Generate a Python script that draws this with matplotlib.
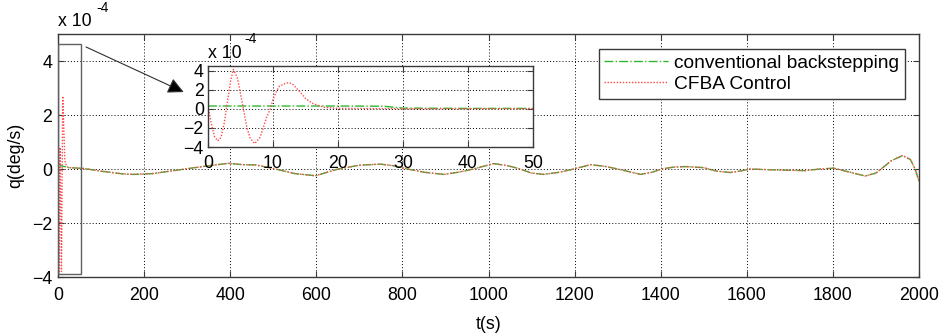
import matplotlib
matplotlib.use("Agg")
import matplotlib.pyplot as plt
from matplotlib.patches import Rectangle, FancyArrowPatch
import numpy as np

plt.rcParams['font.family'] = ['Liberation Sans', 'DejaVu Sans']

# ---- data (values in units of 1e-4 deg/s) ----
# slow common response, t >= 25 s
t_slow = [25, 60, 100, 150, 175, 220, 260, 295, 350, 395, 430, 460, 505, 550, 598,
          651, 700, 749, 780, 812, 850, 896, 930, 965, 1012, 1045, 1074, 1100, 1128,
          1165, 1198, 1237, 1270, 1300, 1353, 1380, 1402, 1430, 1458, 1500, 1530,
          1562, 1590, 1607, 1640, 1680, 1735, 1770, 1802, 1840, 1875, 1900, 1912,
          1935, 1962, 1980, 1991, 2000]
q_slow = [0.05, 0.02, -0.08, -0.18, -0.20, -0.17, -0.08, 0.0, 0.12, 0.21, 0.16, 0.15,
          0.0, -0.17, -0.25, 0.0, 0.14, 0.18, 0.12, 0.0, -0.12, -0.20, -0.12, 0.0, 0.20,
          0.12, 0.0, -0.15, -0.20, -0.12, 0.0, 0.16, 0.10, 0.0, -0.20, -0.12, 0.0, 0.07,
          0.09, 0.05, -0.08, -0.13, -0.06, 0.0, -0.02, -0.04, -0.06, 0.0, 0.03, -0.12,
          -0.26, -0.15, 0.0, 0.30, 0.50, 0.35, 0.0, -0.45]

# early transient as drawn on the main axes
t_cb_start = [0, 10, 20]
q_cb_start = [0.2, 0.1, 0.08]
t_cfba_start = [0, 2, 5, 8, 11, 16, 20]
q_cfba_start = [0.3, -3.9, 0.8, -3.8, 2.7, 0.3, 0.1]

# zoomed transient (inset, 0-50 s)
t_cb_zoom = [0, 10, 20, 27, 30, 40, 50]
q_cb_zoom = [0.3, 0.3, 0.3, 0.28, 0.08, 0.05, 0.05]
t_cfba_zoom = [0, 0.5, 1, 1.5, 2, 2.5, 3, 3.5, 3.9, 4.5, 5, 5.5, 6, 6.5, 7.2, 8, 8.5,
               9, 9.6, 10, 10.5, 11, 12, 12.5, 13, 14, 15, 16, 17, 18, 20, 25, 30, 40, 50]
q_cfba_zoom = [0.3, -1.5, -2.9, -3.36, -3.0, -1.5, 0.8, 3.0, 4.13, 3.3, 1.6, -0.2, -2.0,
               -3.1, -3.64, -3.0, -2.0, -0.9, 0.0, 1.0, 1.8, 2.4, 2.7, 2.76, 2.6, 1.9,
               1.1, 0.6, 0.35, 0.15, 0.05, 0.03, 0.02, 0.02, 0.02]

labels = ['conventional backstepping', 'CFBA Control']
x_ticks = list(range(0, 2001, 200))
y_ticks = [-4, -2, 0, 2, 4]
x_ticks_zoom = [0, 10, 20, 30, 40, 50]

GREEN = '#2fb82f'
RED = '#ff4a4a'
AXC = '#3a3a3a'
FS = 12.8

fig = plt.figure(figsize=(9.4, 3.36), dpi=100)
W, H = 940, 336

def px_axes(l, t, r, b):
    return fig.add_axes([l / W, (H - b) / H, (r - l) / W, (b - t) / H])

def style(ax, fs):
    for s in ax.spines.values():
        s.set_color(AXC)
        s.set_linewidth(1.0)
    ax.tick_params(direction='in', length=4, width=0.8, color=AXC, labelsize=fs,
                   top=True, right=True, pad=4)
    ax.grid(True, color='k', linestyle=(0, (1, 2.2)), linewidth=0.7)
    ax.set_axisbelow(True)

ax = px_axes(58, 34, 919, 277)
t_cb = t_cb_start + t_slow
q_cb = q_cb_start + q_slow
t_cf = t_cfba_start + t_slow
q_cf = q_cfba_start + q_slow
ax.plot(t_cb, q_cb, color=GREEN, linestyle='-.', linewidth=1.0, label=labels[0])
ax.plot(t_cf, q_cf, color=RED, linestyle=(0, (1, 1.2)), linewidth=1.0, label=labels[1])
ax.set_xlim(0, 2000)
ax.set_ylim(-4, 5)
ax.set_xticks(x_ticks)
ax.set_yticks(y_ticks)
style(ax, FS)
ax.tick_params(axis='x', pad=7)
ax.set_xlabel('t(s)', fontsize=FS, labelpad=9)
ax.set_ylabel('q(deg/s)', fontsize=FS, labelpad=6)
leg = ax.legend(loc='upper left', bbox_to_anchor=(0.628, 0.94), borderaxespad=0,
                fontsize=13.8, handlelength=3.3, handletextpad=0.35, fancybox=False,
                framealpha=1, edgecolor=AXC, borderpad=0.3, labelspacing=0.2)
leg.get_frame().set_linewidth(1.0)
fig.text(58 / W, 1 - 13 / H, 'x 10', fontsize=FS, va='top', ha='left')
fig.text(96 / W, 1 - 1 / H, '-4', fontsize=10, va='top', ha='left')

# zoom rectangle and arrow
ax.add_patch(Rectangle((1, -3.9), 52, 8.53, fill=False, edgecolor='#606060',
                       linewidth=1.0, zorder=5))
arr = FancyArrowPatch((65, 4.52), (292, 2.85), arrowstyle='-|>', mutation_scale=24,
                      color='#303030', linewidth=0.8, zorder=6, shrinkA=0, shrinkB=0)
arr.set_facecolor('black')
ax.add_patch(arr)

# inset
ai = px_axes(208, 66, 533, 147)
ai.set_facecolor('white')
ai.plot(t_cb_zoom, q_cb_zoom, color=GREEN, linestyle='-.', linewidth=1.0)
ai.plot(t_cfba_zoom, q_cfba_zoom, color=RED, linestyle=(0, (1, 1.2)), linewidth=1.0)
ai.set_xlim(0, 50)
ai.set_ylim(-4, 4.5)
ai.set_xticks(x_ticks_zoom)
ai.set_yticks(y_ticks)
style(ai, FS)
ai.tick_params(axis='y', pad=3)
ai.tick_params(axis='x', pad=6)
fig.text(208 / W, 1 - 45 / H, 'x 10', fontsize=FS, va='top', ha='left')
fig.text(244 / W, 1 - 32 / H, '-4', fontsize=10, va='top', ha='left')

fig.savefig('out.png', dpi=100)
